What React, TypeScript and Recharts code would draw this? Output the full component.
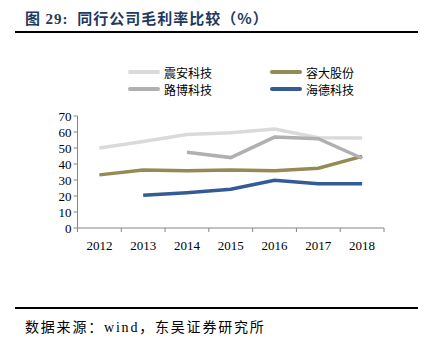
import { Line, LineChart, XAxis, YAxis } from "recharts";

const YEARS = ["2012", "2013", "2014", "2015", "2016", "2017", "2018"];
const ZHENAN = [50, 54, 58.5, 59.6, 61.8, 56.4, 56.2];
const LUBO = [null, null, 47.3, 44, 56.8, 55.8, 43.6];
const RONGDA = [33.2, 36.3, 35.8, 36.3, 35.8, 37.4, 44.8];
const HAIDE = [null, 20.4, 22, 24.2, 29.8, 27.6, 27.6];
const Y_TICKS = [0, 10, 20, 30, 40, 50, 60, 70];

const SERIES = [
  { key: "zhenan", name: "震安科技", color: "#dadada" },
  { key: "rongda", name: "容大股份", color: "#948a54" },
  { key: "lubo", name: "路博科技", color: "#b0b0b0" },
  { key: "haide", name: "海德科技", color: "#335c97" },
];

const data = YEARS.map((year, i) => ({
  year,
  zhenan: ZHENAN[i],
  lubo: LUBO[i],
  rongda: RONGDA[i],
  haide: HAIDE[i],
}));

const AXIS = "#868686";
const SERIF = "'Liberation Serif', 'Times New Roman', serif";
const CJK = "'Noto Sans CJK SC', sans-serif";
const BAND = 306.5 / 7;

// Excel-style x ticks: label centred, tick mark on the category boundary
function YearTick(props: any) {
  const { x, y, payload, index } = props;
  return (
    <g>
      <line x1={x - BAND / 2} x2={x - BAND / 2} y1={y - 8} y2={y - 4} stroke={AXIS} />
      {index === YEARS.length - 1 && (
        <line x1={x + BAND / 2} x2={x + BAND / 2} y1={y - 8} y2={y - 4} stroke={AXIS} />
      )}
      <text x={x} y={y + 14} textAnchor="middle" fill="#000" fontSize={13} fontFamily={SERIF}>
        {payload.value}
      </text>
    </g>
  );
}

function LegendBox() {
  return (
    <div
      style={{
        position: "absolute",
        left: 128,
        top: 65,
        display: "grid",
        gridTemplateColumns: "142px 120px",
        rowGap: 3,
        fontFamily: CJK,
        fontSize: 12,
        color: "#000",
      }}
    >
      {SERIES.map((s) => (
        <div key={s.key} style={{ display: "flex", alignItems: "center", height: 14 }}>
          <span
            style={{
              display: "inline-block",
              width: 32,
              height: 4,
              borderRadius: 2,
              background: s.color,
              marginRight: 4,
            }}
          />
          {s.name}
        </div>
      ))}
    </div>
  );
}

export default function App() {
  return (
    <div
      style={{
        position: "absolute",
        left: 0,
        top: 0,
        width: 431,
        height: 351,
        background: "#fff",
      }}
    >
      <div
        style={{
          position: "absolute",
          left: 25,
          top: 7,
          fontFamily: CJK,
          fontWeight: 700,
          fontSize: 15,
          letterSpacing: 1,
          color: "#1f3a60",
          whiteSpace: "nowrap",
        }}
      >
        图 <span style={{ fontFamily: SERIF }}>29:</span>&nbsp; 同行公司毛利率比较（%）
      </div>
      <div style={{ position: "absolute", left: 15, top: 31, width: 403, height: 2, background: "#000" }} />

      <LegendBox />

      <div style={{ position: "absolute", left: 0, top: 0 }}>
        <LineChart width={431} height={300} data={data} margin={{ top: 116, right: 47, bottom: 0, left: 0 }}>
          <XAxis
            dataKey="year"
            scale="band"
            axisLine={{ stroke: AXIS }}
            tickLine={false}
            tick={<YearTick />}
            interval={0}
            height={72}
          />
          <YAxis
            domain={[0, 70]}
            ticks={Y_TICKS}
            width={77.5}
            axisLine={{ stroke: AXIS }}
            tickLine={{ stroke: AXIS }}
            tickSize={4}
            tick={{ fill: "#000", fontSize: 13, fontFamily: SERIF }}
            interval={0}
          />
          {SERIES.map((s) => (
            <Line
              key={s.key}
              dataKey={s.key}
              name={s.name}
              stroke={s.color}
              strokeWidth={3.5}
              dot={false}
              type="linear"
              connectNulls={false}
              isAnimationActive={false}
            />
          ))}
        </LineChart>
      </div>

      <div style={{ position: "absolute", left: 15, top: 307, width: 403, height: 2, background: "#000" }} />
      <div
        style={{
          position: "absolute",
          left: 25,
          top: 316,
          fontFamily: CJK,
          fontSize: 14,
          letterSpacing: 1.8,
          color: "#000",
          whiteSpace: "nowrap",
        }}
      >
        数据来源：<span style={{ fontFamily: SERIF }}>wind</span>，东吴证券研究所
      </div>
    </div>
  );
}
